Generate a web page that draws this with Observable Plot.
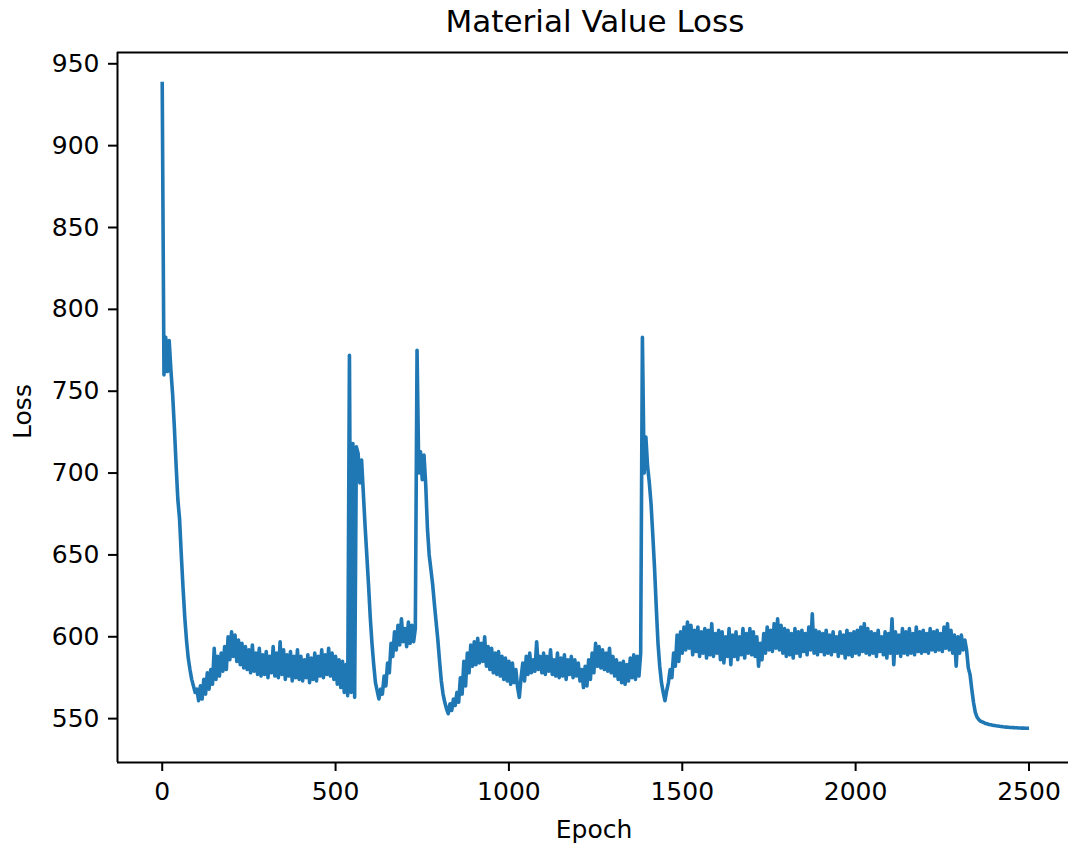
<!DOCTYPE html>
<html>
<head>
<meta charset="utf-8">
<script src="https://cdn.jsdelivr.net/npm/d3@7"></script>
<script src="https://cdn.jsdelivr.net/npm/@observablehq/plot@0.6"></script>
<style>
  html, body { margin: 0; padding: 0; background: #ffffff; }
  #chart svg { display: block; }
</style>
</head>
<body>
<div id="chart"></div>
<script>
// ---- Data ----
const titleText = "Material Value Loss";
const xLabel = "Epoch";
const yLabel = "Loss";
const epochStep = 5; // loss sampled every 5 epochs, starting at epoch 0
const lossValues = [
  938,760,783,762,781,763,748,728,705,684,672,650,630,612,598,587,580,574,570,566,
  568,561,570,562,574,565,578,568,580,571,593,574,588,576,590,579,594,580,600,586,
  603,588,601,585,598,583,596,581,594,580,592,578,595,579,590,577,593,576,589,577,
  591,575,588,578,594,576,590,575,597,577,592,574,589,576,591,573,588,575,592,574,
  588,573,586,575,589,572,587,574,590,573,588,576,592,575,589,577,593,576,590,574,
  588,571,586,569,585,566,583,564,772,566,718,563,716,712,694,708,688,668,650,632,
  612,596,583,572,567,562,568,565,576,570,584,578,596,588,603,592,607,595,611,597,
  605,594,609,596,607,597,605,775,700,713,696,711,693,666,650,641,632,620,609,598,
  585,573,565,560,556,553,559,555,562,558,566,560,575,565,585,570,590,578,595,582,
  597,583,599,584,596,585,600,582,594,580,593,578,590,577,591,576,588,574,587,573,
  585,571,584,572,580,569,563,575,584,573,588,577,590,578,586,579,597,580,588,578,
  590,577,588,579,592,577,586,576,590,575,587,576,589,574,586,577,588,575,586,576,
  584,573,580,569,582,570,586,574,590,578,596,582,594,581,592,580,590,579,593,578,
  588,576,586,574,584,572,585,571,583,573,587,575,589,574,588,576,590,783,700,722,
  704,694,681,662,642,618,596,582,572,566,561,567,572,580,575,590,582,601,585,603,
  590,606,592,609,593,607,589,604,591,606,588,603,590,605,587,604,589,608,588,602,
  590,604,586,603,584,600,588,605,583,601,588,603,586,600,589,605,587,602,590,605,
  589,603,588,600,582,596,586,602,590,606,592,604,591,608,593,611,592,607,590,605,
  588,604,589,602,587,605,590,603,588,604,591,602,589,606,592,614,590,604,589,603,
  591,602,589,604,590,601,589,603,591,600,588,603,590,601,587,604,589,602,588,603,
  590,604,589,606,591,608,590,605,589,603,590,602,588,604,591,600,589,603,587,602,
  590,611,583,603,590,601,588,605,590,603,589,605,590,602,589,606,591,603,590,604,
  591,602,590,605,592,603,591,604,592,602,591,606,593,608,592,604,590,601,582,600,
  590,601,592,598,592,581,577,568,560,554,551,549.5,548.5,548,547.5,547,546.8,546.4,546.2,546,
  545.8,545.6,545.5,545.3,545.2,545.0,544.9,544.8,544.7,544.6,544.6,544.5,544.4,544.4,544.3,544.3,544.2,544.2,544.1,544.1
];
const xTicks = [0, 500, 1000, 1500, 2000, 2500];
const yTicks = [550, 600, 650, 700, 750, 800, 850, 900, 950];

// ---- Table for the library ----
const table = lossValues.map((v, i) => ({ epoch: i * epochStep, loss: v }));

const xDomain = [-129, 2614];
const yDomain = [523.2, 956.9];

const chart = Plot.plot({
  width: 1068,
  height: 846,
  marginLeft: 117,
  marginRight: 0,
  marginTop: 52,
  marginBottom: 84,
  style: { fontFamily: "DejaVu Sans", fontSize: "25px", color: "#000", background: "#fff", overflow: "visible" },
  x: { domain: xDomain, label: null },
  y: { domain: yDomain, label: null },
  marks: [
    Plot.axisX({ ticks: xTicks, tickSize: 9, tickPadding: 11, strokeWidth: 2, fontSize: 25, label: null, tickFormat: d3.format("d") }),
    Plot.axisY({ ticks: yTicks, tickSize: 9, tickPadding: 9, strokeWidth: 2, fontSize: 25, label: null, tickFormat: d3.format("d") }),
    Plot.line(table, { x: "epoch", y: "loss", stroke: "#1f77b4", strokeWidth: 3.6, strokeLinejoin: "round", strokeLinecap: "square" }),
    Plot.ruleY([yDomain[0], yDomain[1]], { stroke: "#000", strokeWidth: 2 }),
    Plot.ruleX([xDomain[0]], { stroke: "#000", strokeWidth: 2 }),
    Plot.text([titleText], { frameAnchor: "top", lineAnchor: "middle", dy: -30, dx: 2, fontSize: 31, fill: "#000" }),
    Plot.text([xLabel], { frameAnchor: "bottom", lineAnchor: "middle", dy: 67, dx: 1, fontSize: 25, fill: "#000" }),
    Plot.text([yLabel], { frameAnchor: "left", textAnchor: "middle", lineAnchor: "middle", dx: -95, dy: 4, rotate: -90, fontSize: 25, fill: "#000" })
  ]
});
document.getElementById("chart").appendChild(chart);
</script>
</body>
</html>
